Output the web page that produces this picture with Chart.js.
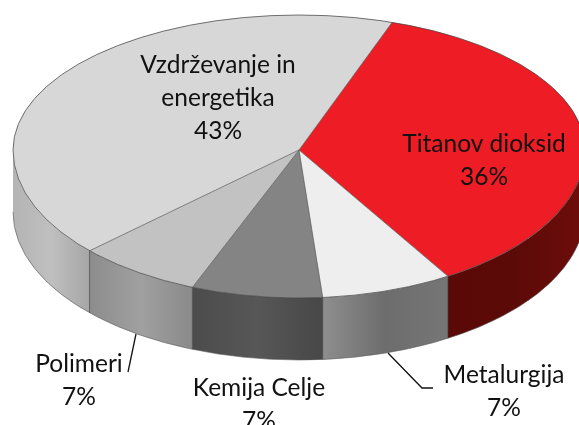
<!DOCTYPE html>
<html>
<head>
<meta charset="utf-8">
<script src="https://cdn.jsdelivr.net/npm/chart.js@4"></script>
<style>
  html, body { margin: 0; background: #fff; overflow: hidden; }
  canvas { display: block; }
</style>
</head>
<body>
<canvas id="pieChart" width="579" height="425"></canvas>
<script>
// Chart data, clockwise from the red slice (slice sizes)
const categories = ['Titanov dioksid', 'Metalurgija', 'Kemija Celje', 'Polimeri', 'Vzdrževanje in energetika'];
const shares = [36, 7.4, 7.4, 7.0, 42.2];
const topColors = ['#ee1c25', '#eeeeee', '#848484', '#c2c2c2', '#d7d7d7'];

// Side wall gradients, left to right
const wallColors = [
  ['#5a0907', '#5c0a08', '#6e0d0a'],
  ['#8e8e8e', '#6d6d6d', '#767676'],
  ['#4c4c4c', '#575757', '#474747'],
  ['#8c8c8c', '#a0a0a0', '#8a8a8a'],
  ['#b4b4b4', '#bfbfbf', '#a6a6a6']
];

// Where the flat pie gets projected
const cx = 299, cy = 150, rx = 286, ryTop = 135, ryBottom = 148, depth = 62;

// Label text lines and their centres
const labels = [
  { lines: ['Vzdrževanje in', 'energetika', '43%'], x: 218, y: 65 },
  { lines: ['Titanov dioksid', '36%'], x: 484, y: 144 },
  { lines: ['Polimeri', '7%'], x: 79, y: 364 },
  { lines: ['Kemija Celje', '7%'], x: 259, y: 388 },
  { lines: ['Metalurgija', '7%'], x: 504, y: 375 }
];
const leaders = [
  [[136, 334], [128, 372]],
  [[388, 353], [422, 388], [433, 388]]
];

// Draw one half of the top face through the arc elements
function drawTopHalf(chart, arcs, y, h, ry) {
  const ctx = chart.ctx;
  ctx.save();
  ctx.beginPath();
  ctx.rect(0, y, chart.width, h);
  ctx.clip();
  arcs.forEach(arc => {
    ctx.save();
    ctx.translate(cx, cy);
    ctx.scale(rx / arc.outerRadius, ry / arc.outerRadius);
    ctx.translate(-arc.x, -arc.y);
    arc.draw(ctx);
    ctx.restore();
  });
  ctx.restore();
}

const pie3d = {
  id: 'pie3d',
  beforeDatasetsDraw(chart) {
    const ctx = chart.ctx;
    const arcs = chart.getDatasetMeta(0).data;

    // Side walls: only the part of each slice facing the viewer
    arcs.forEach((arc, i) => {
      const a0 = Math.max(arc.startAngle, 0);
      const a1 = Math.min(arc.endAngle, Math.PI);
      if (a1 <= a0) return;
      const x0 = cx + rx * Math.cos(a0), x1 = cx + rx * Math.cos(a1);
      const grad = ctx.createLinearGradient(Math.min(x0, x1), 0, Math.max(x0, x1), 0);
      wallColors[i].forEach((c, k) => grad.addColorStop(k / (wallColors[i].length - 1), c));
      ctx.beginPath();
      ctx.ellipse(cx, cy, rx, ryBottom, 0, a0, a1);
      ctx.ellipse(cx, cy + depth, rx, ryBottom, 0, a1, a0, true);
      ctx.closePath();
      ctx.fillStyle = grad;
      ctx.fill();

      // wall seam, not at the outline ends
      if (arc.startAngle > 0) {
        ctx.beginPath();
        ctx.moveTo(x0, cy + ryBottom * Math.sin(a0));
        ctx.lineTo(x0, cy + ryBottom * Math.sin(a0) + depth);
        ctx.strokeStyle = 'rgba(60,60,60,0.7)';
        ctx.lineWidth = 1;
        ctx.stroke();
      }
    });

    // Wall bottom edge
    ctx.beginPath();
    ctx.ellipse(cx, cy + depth, rx, ryBottom, 0, 0, Math.PI);
    ctx.strokeStyle = 'rgba(90,90,90,0.6)';
    ctx.lineWidth = 1;
    ctx.stroke();

    // Top face
    drawTopHalf(chart, arcs, 0, cy, ryTop);
    drawTopHalf(chart, arcs, cy, chart.height - cy, ryBottom);

    // Rim and spokes
    ctx.beginPath();
    ctx.ellipse(cx, cy, rx, ryTop, 0, Math.PI, 2 * Math.PI);
    ctx.moveTo(cx + rx, cy);
    ctx.ellipse(cx, cy, rx, ryBottom, 0, 0, Math.PI);
    ctx.strokeStyle = 'rgba(70,70,70,0.75)';
    ctx.lineWidth = 1;
    ctx.stroke();
    arcs.forEach(arc => {
      const s = Math.sin(arc.startAngle);
      ctx.beginPath();
      ctx.moveTo(cx, cy);
      ctx.lineTo(cx + rx * Math.cos(arc.startAngle), cy + (s < 0 ? ryTop : ryBottom) * s);
      ctx.strokeStyle = 'rgba(85,85,85,0.7)';
      ctx.stroke();
    });
    return false;
  },
  afterDraw(chart) {
    const ctx = chart.ctx;

    // Leader lines
    ctx.strokeStyle = '#111';
    ctx.lineWidth = 1.3;
    leaders.forEach(pts => {
      ctx.beginPath();
      pts.forEach((p, i) => i ? ctx.lineTo(p[0], p[1]) : ctx.moveTo(p[0], p[1]));
      ctx.stroke();
    });

    // Labels
    ctx.fillStyle = '#111';
    ctx.font = '24.5px Lato';
    ctx.textAlign = 'center';
    ctx.textBaseline = 'middle';
    labels.forEach(l => {
      l.lines.forEach((t, i) => ctx.fillText(t, l.x, l.y + i * 33));
    });
  }
};

new Chart(document.getElementById('pieChart').getContext('2d'), {
  type: 'pie',
  data: {
    labels: categories,
    datasets: [{ data: shares, backgroundColor: topColors, borderWidth: 0 }]
  },
  options: {
    responsive: false,
    animation: false,
    rotation: 19,
    plugins: { legend: { display: false }, tooltip: { enabled: false } }
  },
  plugins: [pie3d]
});
</script>
</body>
</html>
